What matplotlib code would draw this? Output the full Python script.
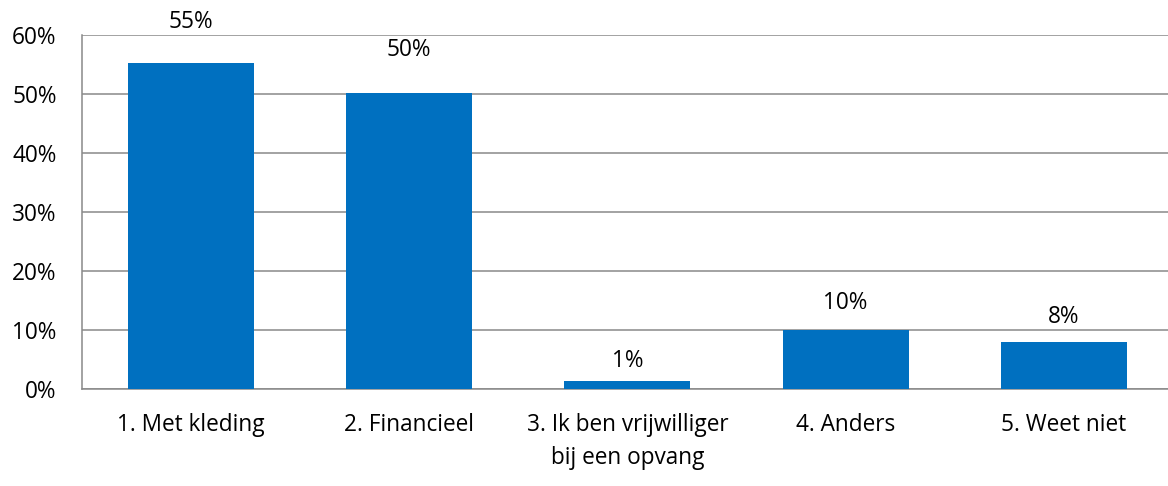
import matplotlib
matplotlib.use("Agg")
import matplotlib.pyplot as plt
from matplotlib.ticker import FuncFormatter

categories = ["1. Met kleding", "2. Financieel", "3. Ik ben vrijwilliger\nbij een opvang", "4. Anders", "5. Weet niet"]
values = [55.2, 50.2, 1.4, 10.0, 7.9]
labels = ["55%", "50%", "1%", "10%", "8%"]
yticks = [0, 10, 20, 30, 40, 50, 60]

# style: vertical offset (points) of each value label centre above its bar
label_offsets = [30, 30.5, 14, 19.5, 18.5]

plt.rcParams['font.family'] = ['Open Sans', 'DejaVu Sans']
FS = 16.3

W, H = 1168, 486
fig = plt.figure(figsize=(W / 100, H / 100), dpi=100)
left, right, top, bottom = 81.6, 81.6 + 5 * 218.3, 35, 389
ax = fig.add_axes([left / W, 1 - bottom / H, (right - left) / W, (bottom - top) / H])

x = list(range(len(categories)))
ax.bar(x, values, width=0.578, color="#0070C0", zorder=3)
for xi, v, lab, off in zip(x, values, labels, label_offsets):
    ax.annotate(lab, (xi, v), xytext=(0, off), textcoords="offset points",
                ha="center", va="center", fontsize=FS, color="#000000",
                annotation_clip=False)

ax.set_xlim(-0.5, len(categories) - 0.5)
ax.set_ylim(0, 60)
ax.set_yticks(yticks)
ax.yaxis.set_major_formatter(FuncFormatter(lambda v, p: f"{int(v)}%"))
ax.set_xticks(x)
ax.set_xticklabels(categories, fontsize=FS, linespacing=1.5)
ax.tick_params(axis="y", labelsize=FS, length=0, pad=18)
ax.tick_params(axis="x", length=0, pad=17)
ax.grid(axis="y", color="#898989", linewidth=1.1, zorder=0)
ax.spines["top"].set_visible(False)
ax.spines["right"].set_visible(False)
for s in ("left", "bottom"):
    ax.spines[s].set_color("#898989")
    ax.spines[s].set_linewidth(1.1)
ax.set_axisbelow(True)

fig.savefig("out.png", dpi=100)
